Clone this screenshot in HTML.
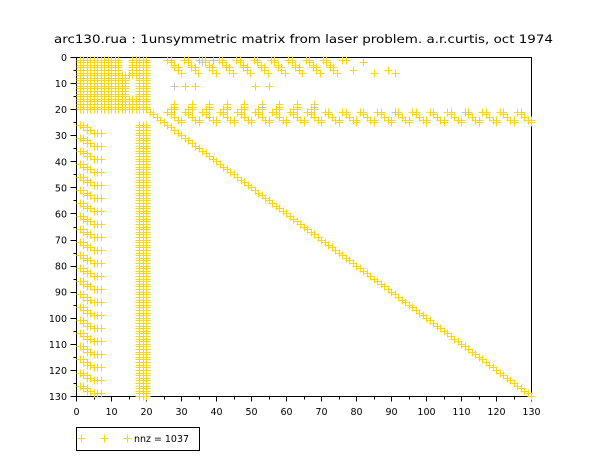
<!DOCTYPE html>
<html><head><meta charset="utf-8">
<style>
html,body{margin:0;padding:0;background:#fff;}
svg{display:block;}
text{font-family:"DejaVu Sans","Liberation Sans",sans-serif;fill:#000;}
</style></head>
<body>
<svg id="s" width="610" height="460" xmlns="http://www.w3.org/2000/svg">
<rect width="610" height="460" fill="#fff"/>
<text x="54" y="43" font-size="11.5" textLength="499" lengthAdjust="spacingAndGlyphs">arc130.rua : 1unsymmetric matrix from laser problem. a.r.curtis, oct 1974</text>
<rect x="76.5" y="57.5" width="455" height="339" fill="none" stroke="#000" stroke-width="1"/>
<path id="tk" stroke="#000" stroke-width="1" fill="none"/>
<path id="ym" fill="none" stroke="#ffd700" stroke-width="1"/>
<path id="gm" fill="none" stroke="#c4c4c4" stroke-width="1"/>
<g font-size="9.5" text-anchor="middle">
<text x="76.5" y="415">0</text>
<text x="111.5" y="415">10</text>
<text x="146.5" y="415">20</text>
<text x="181.5" y="415">30</text>
<text x="216.5" y="415">40</text>
<text x="251.5" y="415">50</text>
<text x="286.5" y="415">60</text>
<text x="321.5" y="415">70</text>
<text x="356.5" y="415">80</text>
<text x="391.5" y="415">90</text>
<text x="426.5" y="415">100</text>
<text x="461.5" y="415">110</text>
<text x="496.5" y="415">120</text>
<text x="531.5" y="415">130</text>
</g>
<g font-size="9.5" text-anchor="end">
<text x="67" y="61">0</text>
<text x="67" y="87.1">10</text>
<text x="67" y="113.2">20</text>
<text x="67" y="139.2">30</text>
<text x="67" y="165.3">40</text>
<text x="67" y="191.4">50</text>
<text x="67" y="217.5">60</text>
<text x="67" y="243.5">70</text>
<text x="67" y="269.6">80</text>
<text x="67" y="295.7">90</text>
<text x="67" y="321.8">100</text>
<text x="67" y="347.8">110</text>
<text x="67" y="373.9">120</text>
<text x="67" y="400">130</text>
</g>
<rect x="76.5" y="427.5" width="123" height="23" fill="#fff" stroke="#000" stroke-width="1"/>
<path d="M77.5 438.5h8M81.5 434.5v8M100.5 438.5h8M104.5 434.5v8M123.5 438.5h8M127.5 434.5v8" stroke="#ffd700" stroke-width="1" fill="none"/>
<text x="134" y="442" font-size="9.5" textLength="55" lengthAdjust="spacingAndGlyphs">nnz = 1037</text>
</svg>
<script>
(function(){
var P=[],G=[];
function add(r,c,g){(g?G:P).push([r,c]);}
var r,c,k,b;
// top-left dense block
for(r=1;r<=20;r++)for(c=1;c<=20;c++){
 if(r<=6&&c>=13&&c<=15)continue;
 if(r>=8&&r<=15&&c>=15&&c<=17)continue;
 add(r,c);
}
// diagonal
for(r=21;r<=130;r++)add(r,r);
// dense columns
for(r=26;r<=130;r++)for(c=18;c<=20;c++)add(r,c);
// left periodic staircase
for(r=26;r<=130;r+=5){
 var o=[[0,1],[0,2],[1,2],[1,3],[2,3],[2,4],[3,5],[3,6],[3,7]];
 for(k=0;k<o.length;k++){if(r+o[k][0]<=130)add(r+o[k][0],o[k][1]);}
}
// top band rows 1-6
for(k=0;k<10;k++){
 b=26+4.95*k;
 var o2=[[1,0],[1,1],[2,1],[3,2],[4,2],[4,3],[5,3],[6,4]];
 for(var j=0;j<o2.length;j++)add(o2[j][0],b+o2[j][1]);
}
[[1,76],[1,77],[5,79],[2,82],[6,85],[5,89],[6,91]].forEach(function(p){add(p[0],p[1]);});
// row 11
add(11,28,1);add(11,31);add(11,34);add(11,51);add(11,55);
// band rows 18-25
for(k=0;k<=20;k++){
 b=26+5*k;
 var o3=[[21,0],[21,1],[22,1],[23,2],[24,3],[24,4],[25,4]];
 for(var j=0;j<o3.length;j++){var cc=b+o3[j][1];if(cc<=130)add(o3[j][0],cc);}
 if(b<=66){add(18,b+2);add(19,b+2);add(20,b+1);add(20,b+2);}
}
// a few grey entries
[[1,35],[2,36],[1,39],[19,68],[21,91],[21,111],[19,53]].forEach(function(p){add(p[0],p[1],1);});
function pth(L){var s='';for(var i=0;i<L.length;i++){
 var x=Math.round(76.5+3.5*L[i][1]-0.5)+0.5,y=Math.round(57.5+339/130*L[i][0]-0.5)+0.5;
 s+='M'+(x-4)+' '+y+'h8M'+x+' '+(y-4)+'v8';}return s;}
document.getElementById('ym').setAttribute('d',pth(P));
document.getElementById('gm').setAttribute('d',pth(G));
var t='';
for(k=0;k<=26;k++){var y=Math.round(57.5+339*k/26-0.5)+0.5;t+='M'+(k%2?73.5:70.5)+' '+y+'H76.5';}
for(k=0;k<=26;k++){var x=Math.round(76.5+455*k/26-0.5)+0.5;t+='M'+x+' 396.5V'+(k%2?399.5:401.5);}
document.getElementById('tk').setAttribute('d',t);
})();
</script>
</body></html>
